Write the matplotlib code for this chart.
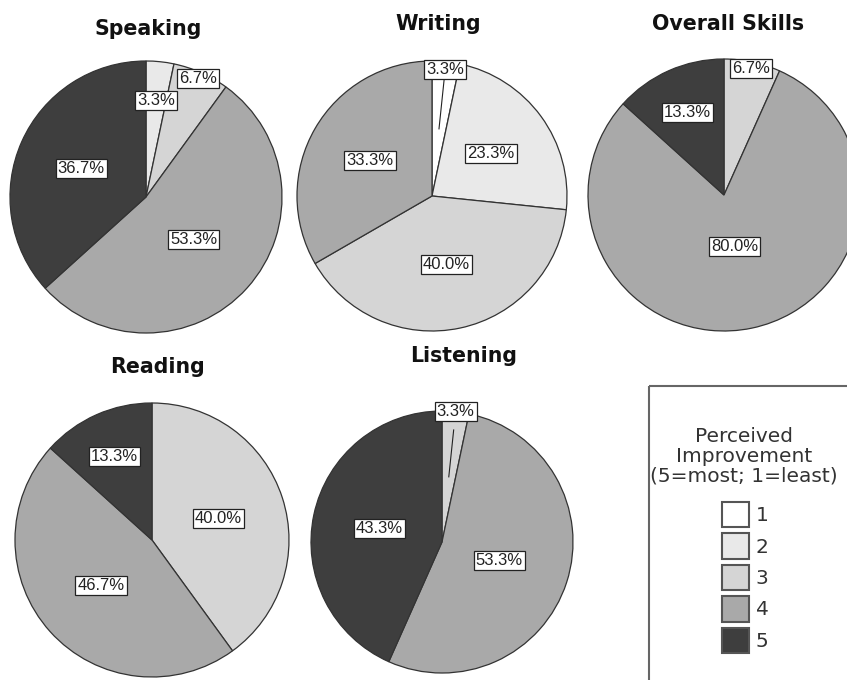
import numpy as np
import matplotlib
matplotlib.use("Agg")
import matplotlib.pyplot as plt
from matplotlib.patches import Patch, Rectangle

# perceived improvement categories (5=most, 1=least)
categories = ['1', '2', '3', '4', '5']
colors = ['#ffffff', '#e9e9e9', '#d5d5d5', '#a9a9a9', '#3e3e3e']

# percentages per category 1..5
speaking = [0, 3.3, 6.7, 53.3, 36.7]
writing = [3.3, 23.3, 40.0, 33.3, 0]
overall = [0, 0, 6.7, 80.0, 13.3]
reading = [0, 0, 40.0, 46.7, 13.3]
listening = [0, 0, 3.3, 53.3, 43.3]

W, H = 847, 680
fig = plt.figure(figsize=(W / 100, H / 100), dpi=100)
plt.rcParams['font.family'] = ['DejaVu Sans']


def px(x, y):
    return x / W, 1 - y / H


# title, values, centre (px), radius (px), title pos (px), label radii, slice with leader line
pies = [
    ("Speaking", speaking, (146, 197), 136, (148, 29), [0.71, 0.95, 0.47, 0.52], None),
    ("Writing", writing, (432, 196), 135, (438, 24), [0.94, 0.54, 0.52, 0.53], 0),
    ("Overall Skills", overall, (724, 195), 136, (728, 24), [0.95, 0.39, 0.66], None),
    ("Reading", reading, (152, 540), 137, (157, 367), [0.51, 0.50, 0.67], None),
    ("Listening", listening, (442, 542), 131, (464, 356), [1.0, 0.46, 0.49], 0),
]

for title, vals, (cx, cy), r, (tx, ty), dists, leader in pies:
    ax = fig.add_axes([(cx - r) / W, 1 - (cy + r) / H, 2 * r / W, 2 * r / H])
    idx = [i for i, v in enumerate(vals) if v > 0]
    v = [vals[i] for i in idx]
    wedges, _ = ax.pie(v, colors=[colors[i] for i in idx], startangle=90,
                       counterclock=False, radius=1,
                       wedgeprops=dict(edgecolor='#333333', linewidth=0.9))
    ax.set_xlim(-1, 1)
    ax.set_ylim(-1, 1)
    for w in wedges:
        w.set_clip_on(False)
    for k, (w, val) in enumerate(zip(wedges, v)):
        ang = np.deg2rad((w.theta1 + w.theta2) / 2)
        d = dists[k]
        if k == leader:
            ax.plot([0.5 * np.cos(ang), 0.86 * np.cos(ang)],
                    [0.5 * np.sin(ang), 0.86 * np.sin(ang)],
                    color='#222222', lw=0.8, zorder=3, clip_on=False)
        ax.text(d * np.cos(ang), d * np.sin(ang), f"{val:.1f}%",
                ha='center', va='center', fontsize=12, family='Liberation Sans',
                color='#222222', zorder=4,
                bbox=dict(boxstyle='square,pad=0.12', fc='white', ec='#222222', lw=0.9))
    x, y = px(tx, ty)
    fig.text(x, y, title, ha='center', va='center', fontsize=14.8,
             fontweight='bold', color='#111111')

# legend box running off the right and bottom edges
fig.add_artist(Rectangle(px(649, 386), 0.3, -(1 - 386 / H) - 0.05,
                         transform=fig.transFigure, fill=False,
                         ec='#666666', lw=1.5))
x, y = px(744, 456)
fig.text(x, y, "Perceived\nImprovement\n(5=most; 1=least)", ha='center',
         va='center', multialignment='center', fontsize=14.5,
         linespacing=1.05, color='#333333')

handles = [Patch(fc=c, ec='#555555', lw=1.5) for c in colors]
fig.legend(handles=handles, labels=categories, loc='upper center',
           bbox_to_anchor=px(745, 502), frameon=False, fontsize=14.5,
           handlelength=1.34, handleheight=1.56, labelspacing=0.3,
           handletextpad=0.35, borderpad=0, borderaxespad=0,
           labelcolor='#333333')

fig.savefig("out.png", dpi=100, facecolor='white')
